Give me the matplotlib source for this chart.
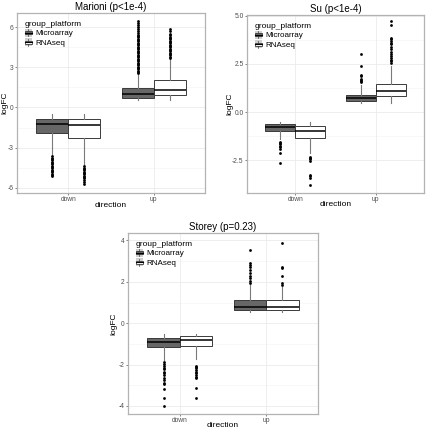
import matplotlib
matplotlib.use('Agg')
import matplotlib.pyplot as plt
from matplotlib.patches import Patch, Rectangle
from matplotlib.legend_handler import HandlerBase
from matplotlib.lines import Line2D

plt.rcParams['font.family'] = ['Liberation Sans', 'DejaVu Sans']

# ---------------- data ----------------
directions = ['down', 'up']
platforms = ['Microarray', 'RNAseq']
# order of boxes: down-Microarray, down-RNAseq, up-Microarray, up-RNAseq

# Marioni
marioni_title = 'Marioni (p<1e-4)'
marioni_lo = [-3.60, -4.35, 0.57, 0.57]
marioni_q1 = [-1.94, -2.28, 0.69, 0.92]
marioni_med = [-1.24, -1.32, 0.99, 1.31]
marioni_q3 = [-0.87, -0.87, 1.44, 2.03]
marioni_hi = [-0.50, -0.50, 2.48, 3.64]
marioni_fl_dn_mic = [-3.65, -3.75, -3.85, -3.95, -4.05, -4.15, -4.25, -4.35, -4.45,
                     -4.55, -4.65, -4.75, -4.85, -4.95, -5.05, -5.12]
marioni_fl_dn_rna = [-4.40, -4.50, -4.60, -4.70, -4.80, -4.90, -5.00, -5.10, -5.20,
                     -5.30, -5.45, -5.60, -5.75]
marioni_fl_up_mic = [2.55, 2.65, 2.75, 2.85, 2.95, 3.05, 3.15, 3.25, 3.35, 3.45, 3.55,
                     3.65, 3.75, 3.85, 3.95, 4.05, 4.15, 4.25, 4.35, 4.45, 4.55, 4.65,
                     4.75, 4.85, 4.95, 5.05, 5.15, 5.25, 5.35, 5.45, 5.60, 5.75, 5.90,
                     6.05, 6.20, 6.35, 6.45]
marioni_fl_up_rna = [3.70, 3.80, 3.90, 4.00, 4.10, 4.20, 4.30, 4.40, 4.50, 4.60, 4.70,
                     4.80, 4.90, 5.00, 5.10, 5.20, 5.30, 5.40, 5.50, 5.70, 5.87]
marioni_yticks = [-6, -3, 0, 3, 6]
marioni_yticklabels = ['-6', '-3', '0', '3', '6']

# Su
su_title = 'Su (p<1e-4)'
su_lo = [-1.42, -2.14, 0.47, 0.47]
su_q1 = [-0.98, -1.36, 0.60, 0.84]
su_med = [-0.77, -0.97, 0.73, 1.10]
su_q3 = [-0.64, -0.72, 0.90, 1.46]
su_hi = [-0.52, -0.54, 1.43, 2.38]
su_fl_dn_mic = [-1.54, -1.61, -1.68, -1.74, -1.80, -1.94, -2.11, -2.62]
su_fl_dn_rna = [-2.35, -2.40, -2.46, -2.54, -3.24, -3.33, -3.42, -3.80]
su_fl_up_mic = [1.55, 1.62, 1.68, 1.74, 1.86, 1.95, 2.38, 3.03]
su_fl_up_rna = [2.56, 2.65, 2.73, 2.82, 2.91, 3.00, 3.12, 3.26, 3.40, 3.52, 3.61,
                3.69, 3.78, 3.87, 4.51, 4.74]
su_yticks = [-2.5, 0.0, 2.5, 5.0]
su_yticklabels = ['-2.5', '0.0', '2.5', '5.0']

# Storey
storey_title = 'Storey (p=0.23)'
storey_lo = [-1.78, -1.72, 0.56, 0.56]
storey_q1 = [-1.16, -1.10, 0.64, 0.64]
storey_med = [-0.92, -0.81, 0.80, 0.80]
storey_q3 = [-0.73, -0.61, 1.13, 1.13]
storey_hi = [-0.52, -0.52, 1.85, 1.77]
storey_fl_dn_mic = [-1.90, -1.98, -2.07, -2.15, -2.23, -2.34, -2.42, -2.50, -2.63,
                    -2.74, -2.87, -2.94, -3.19, -3.63, -3.98]
storey_fl_dn_rna = [-2.07, -2.13, -2.19, -2.26, -2.34, -2.42, -2.50, -2.58, -2.66,
                    -3.11, -3.63]
storey_fl_up_mic = [1.93, 2.06, 2.18, 2.30, 2.45, 2.58, 2.71, 2.82, 2.93, 3.55]
storey_fl_up_rna = [1.86, 1.93, 2.29, 2.66, 2.74, 3.90]
storey_yticks = [-4, -2, 0, 2, 4]
storey_yticklabels = ['-4', '-2', '0', '2', '4']

# ---------------- style ----------------
FILL = {'Microarray': '#676767', 'RNAseq': '#ffffff'}
EDGE = '#3a3a3a'
WHISK = '#7a7a7a'
GRID = '#ebebeb'
BORDER = '#b3b3b3'
TICKC = '#4d4d4d'


class BoxKeyHandler(HandlerBase):
    def create_artists(self, legend, orig_handle, xdescent, ydescent,
                       width, height, fontsize, trans):
        x0, y0 = -xdescent, -ydescent
        bg = Rectangle((x0, y0), width, height, facecolor='#cfcfcf',
                       edgecolor='none', transform=trans)
        bx = Rectangle((x0 + 0.1 * width, y0 + 0.28 * height), 0.8 * width,
                       0.44 * height, facecolor=orig_handle.get_facecolor(),
                       edgecolor=EDGE, linewidth=0.6, transform=trans)
        cx = x0 + width / 2
        med = Line2D([x0 + 0.1 * width, x0 + 0.9 * width],
                     [y0 + 0.5 * height] * 2, color='black', lw=0.8,
                     transform=trans)
        w1 = Line2D([cx, cx], [y0 + 0.05 * height, y0 + 0.28 * height],
                    color=EDGE, lw=0.5, transform=trans)
        w2 = Line2D([cx, cx], [y0 + 0.72 * height, y0 + 0.95 * height],
                    color=EDGE, lw=0.5, transform=trans)
        return [bg, bx, med, w1, w2]


def draw_panel(ax, title, lo, q1, med, q3, hi, fliers, ylim, yticks, yticklabels,
               xlab_y, ylab_x):
    stats, pos, fills = [], [], []
    dodge = {'Microarray': -0.1875, 'RNAseq': 0.1875}
    k = 0
    for i, d in enumerate(directions):
        for p in platforms:
            stats.append(dict(med=med[k], q1=q1[k], q3=q3[k], whislo=lo[k],
                              whishi=hi[k], fliers=fliers[k]))
            pos.append(i + 1 + dodge[p])
            fills.append(FILL[p])
            k += 1
    # grid
    ax.set_axisbelow(True)
    for y in yticks:
        ax.axhline(y, color=GRID, lw=0.6, zorder=0)
    for a, b in zip(yticks[:-1], yticks[1:]):
        ax.axhline((a + b) / 2, color='#f4f4f4', lw=0.4, zorder=0)
    for x in [1, 2]:
        ax.axvline(x, color=GRID, lw=0.6, zorder=0)
    res = ax.bxp(stats, positions=pos, widths=0.375, patch_artist=True,
                 showcaps=False, manage_ticks=False,
                 boxprops=dict(edgecolor=EDGE, linewidth=0.7),
                 medianprops=dict(color='black', linewidth=1.1),
                 whiskerprops=dict(color=WHISK, linewidth=0.8),
                 flierprops=dict(marker='o', markerfacecolor='black',
                                 markeredgecolor='none', markersize=2.0))
    for b, f in zip(res['boxes'], fills):
        b.set_facecolor(f)
    ax.set_xlim(0.4, 2.6)
    ax.set_ylim(*ylim)
    ax.set_xticks([1, 2])
    ax.set_xticklabels(directions)
    ax.set_yticks(yticks)
    ax.set_yticklabels(yticklabels)
    ax.tick_params(axis='both', labelsize=4.8, colors=TICKC, length=1.5,
                   width=0.5, pad=1.0)
    for s in ax.spines.values():
        s.set_color(BORDER)
        s.set_linewidth(0.9)
    ax.set_xlabel('direction', fontsize=6.0, va='center', ha='center')
    ax.xaxis.set_label_coords(0.5, xlab_y)
    ax.set_ylabel('logFC', fontsize=6.0, va='center', ha='center',
                  rotation_mode='default')
    ax.yaxis.set_label_coords(ylab_x, 0.5)
    ax.set_title(title, fontsize=7, pad=2.5)
    handles = [Patch(facecolor=FILL[p]) for p in platforms]
    leg = ax.legend(handles, platforms, title='group_platform', loc='upper left',
                    frameon=False, handler_map={Patch: BoxKeyHandler()},
                    fontsize=5.8, title_fontsize=6.0, handlelength=0.95,
                    handleheight=1.15, handletextpad=0.35, labelspacing=0.12,
                    borderaxespad=0.5, borderpad=0.45)
    leg._legend_box.align = 'left'


fig = plt.figure(figsize=(4.3, 4.3), dpi=100)
W = H = 430.0


def axes_px(left, top, right, bottom):
    return fig.add_axes([left / W, 1 - bottom / H, (right - left) / W, (bottom - top) / H])


ax1 = axes_px(17, 13, 205, 193)
draw_panel(ax1, marioni_title, marioni_lo, marioni_q1, marioni_med, marioni_q3, marioni_hi,
           [marioni_fl_dn_mic, marioni_fl_dn_rna, marioni_fl_up_mic, marioni_fl_up_rna],
           (-6.39, 7.06), marioni_yticks, marioni_yticklabels, -0.067, -0.064)

ax2 = axes_px(247, 15, 424, 193)
draw_panel(ax2, su_title, su_lo, su_q1, su_med, su_q3, su_hi,
           [su_fl_dn_mic, su_fl_dn_rna, su_fl_up_mic, su_fl_up_rna],
           (-4.2, 5.04), su_yticks, su_yticklabels, -0.067, -0.096)

ax3 = axes_px(128, 233, 318, 414)
draw_panel(ax3, storey_title, storey_lo, storey_q1, storey_med, storey_q3, storey_hi,
           [storey_fl_dn_mic, storey_fl_dn_rna, storey_fl_up_mic, storey_fl_up_rna],
           (-4.39, 4.36), storey_yticks, storey_yticklabels, -0.061, -0.074)

fig.savefig('out.png', dpi=100, facecolor='white')
